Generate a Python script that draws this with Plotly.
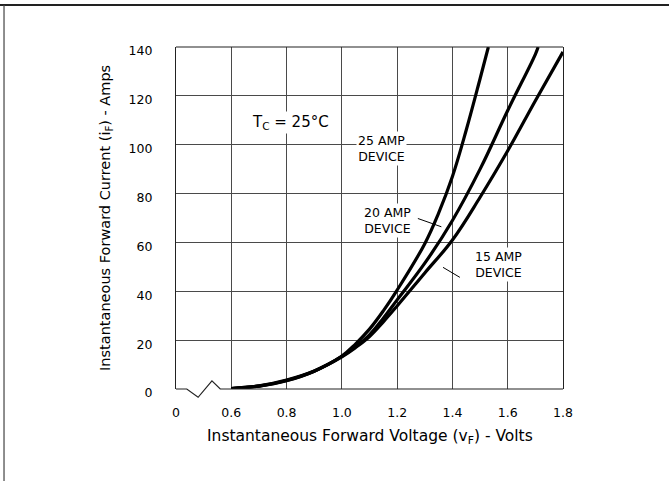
import plotly.graph_objects as go

# ---- data ----
v25 = [0.6, 0.7, 0.8, 0.9, 1.0, 1.05, 1.1, 1.15, 1.2, 1.3, 1.35, 1.4, 1.45, 1.5, 1.53]
i25 = [0.2, 1.2, 3.4, 7.3, 13.5, 18.5, 24.5, 32, 40.5, 59.5, 72, 87, 106, 127, 140]

v20 = [0.6, 0.7, 0.8, 0.9, 1.0, 1.05, 1.1, 1.15, 1.2, 1.3, 1.4, 1.5, 1.6, 1.7, 1.71]
i20 = [0.2, 1.2, 3.5, 7.3, 13.3, 17.3, 22.2, 29, 36.5, 51.5, 69, 90, 114, 137, 140]

v15 = [0.6, 0.7, 0.8, 0.9, 1.0, 1.05, 1.1, 1.15, 1.2, 1.3, 1.4, 1.5, 1.6, 1.7, 1.8]
i15 = [0.2, 1.3, 3.7, 7.4, 13.2, 17, 21.5, 27.5, 34, 47.5, 61, 78.5, 97.5, 118, 138]

x_tickvals = [0.4, 0.6, 0.8, 1.0, 1.2, 1.4, 1.6, 1.8]
x_ticktext = ["0", "0.6", "0.8", "1.0", "1.2", "1.4", "1.6", "1.8"]
y_tickvals = [0, 20, 40, 60, 80, 100, 120, 140]

XMIN, XMAX = 0.4, 1.8
YMIN, YMAX = 0, 140

FONT = "DejaVu Sans, Liberation Sans, Arial, sans-serif"
GRID = "#4a4a4a"

fig = go.Figure()
for v, i, name in [(v25, i25, "25 AMP DEVICE"), (v20, i20, "20 AMP DEVICE"), (v15, i15, "15 AMP DEVICE")]:
    fig.add_trace(go.Scatter(x=v, y=i, mode="lines", name=name,
                             line=dict(color="black", width=3.2, shape="spline", smoothing=1.1),
                             showlegend=False, hoverinfo="x+y+name"))


def px(x):
    return (x - XMIN) / (XMAX - XMIN)


def py(y):
    return (y - YMIN) / (YMAX - YMIN)


# broken bottom axis (zig-zag axis break between 0 and 0.6)
brk_x = [0.4, 0.439, 0.48, 0.53, 0.56, 1.8]
brk_y = [0, 0, -3.4, 3.3, 0, 0]
path = "M " + " L ".join(f"{px(a):.5f},{py(b):.5f}" for a, b in zip(brk_x, brk_y))

shapes = [
    # hide the straight y=0 grid under the axis break
    dict(type="line", xref="paper", yref="paper", x0=px(0.4) + 0.003, x1=px(0.56), y0=0, y1=0,
         line=dict(color="white", width=3), layer="above"),
    dict(type="path", xref="paper", yref="paper", path=path,
         line=dict(color="#222", width=1.2), layer="above"),
    # top border of plot
    dict(type="line", xref="paper", yref="paper", x0=0, x1=1, y0=1, y1=1,
         line=dict(color="#222", width=1.2), layer="above"),
    # leader lines
    dict(type="line", xref="x", yref="y", x0=1.275, y0=69.8, x1=1.36, y1=66.4,
         line=dict(color="black", width=1)),
    dict(type="line", xref="x", yref="y", x0=1.366, y0=49.8, x1=1.427, y1=45.7,
         line=dict(color="black", width=1)),
    # page frame (top and left edges)
    dict(type="line", xref="paper", yref="paper", x0=-0.46, x1=1.28, y0=1.1228, y1=1.1228,
         line=dict(color="#222", width=2), layer="above"),
    dict(type="line", xref="paper", yref="paper", x0=-0.4444, x1=-0.4444, y0=1.1228, y1=-0.28,
         line=dict(color="#444", width=1.2), layer="above"),
]

annotations = [
    dict(x=1.145, y=98.6, xref="x", yref="y", text="25 AMP<br>DEVICE", showarrow=False,
         font=dict(family=FONT, size=12.5, color="black"), bgcolor="white", align="center"),
    dict(x=1.166, y=69.1, xref="x", yref="y", text="20 AMP<br>DEVICE", showarrow=False,
         font=dict(family=FONT, size=12.5, color="black"), bgcolor="white", align="center"),
    dict(x=1.567, y=50.8, xref="x", yref="y", text="15 AMP<br>DEVICE", showarrow=False,
         font=dict(family=FONT, size=12.5, color="black"), bgcolor="white", align="center"),
    dict(x=0.815, y=109.2, xref="x", yref="y", text="T<sub>C</sub> = 25°C", showarrow=False,
         font=dict(family=FONT, size=15, color="black"), bgcolor="white"),
    # axis titles
    dict(x=0.5, y=-0.14, xref="paper", yref="paper", yanchor="middle",
         text="Instantaneous Forward Voltage (v<sub>F</sub>) - Volts", showarrow=False,
         font=dict(family=FONT, size=15.5, color="black")),
    dict(x=-0.181, y=0.5, xref="paper", yref="paper", xanchor="center", textangle=-90,
         text="Instantaneous Forward Current (i<sub>F</sub>) - Amps", showarrow=False,
         font=dict(family=FONT, size=14.5, color="black")),
]

fig.update_layout(
    width=669, height=481,
    margin=dict(l=176, r=106, t=47, b=92),
    paper_bgcolor="white", plot_bgcolor="white",
    font=dict(family=FONT, color="black"),
    shapes=shapes, annotations=annotations,
    showlegend=False,
)
fig.update_xaxes(range=[XMIN, XMAX], tickvals=x_tickvals, ticktext=x_ticktext,
                 showgrid=True, gridcolor=GRID, gridwidth=1, zeroline=False,
                 showline=False, ticks="", ticklabelstandoff=14,
                 tickfont=dict(family=FONT, size=12.5, color="black"))
fig.update_yaxes(range=[YMIN, YMAX], tickvals=y_tickvals,
                 showgrid=True, gridcolor=GRID, gridwidth=1, zeroline=False,
                 showline=True, mirror=True, linecolor="#222", linewidth=1.2,
                 ticks="", ticklabelstandoff=20, ticklabelshift=4,
                 tickfont=dict(family=FONT, size=12.5, color="black"))

fig.write_html("out.html", config={"displayModeBar": False},
               post_script="document.body.style.margin='0';")
